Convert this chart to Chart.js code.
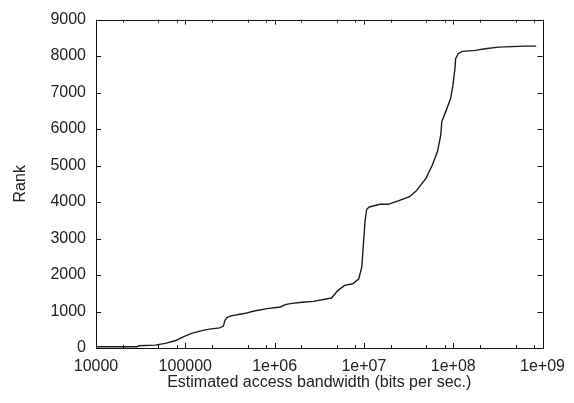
<!DOCTYPE html>
<html>
<head>
<meta charset="utf-8">
<script src="https://cdn.jsdelivr.net/npm/chart.js@4/dist/chart.umd.min.js"></script>
<style>
html,body{margin:0;padding:0;background:#fff;}
#wrap{width:574px;height:403px;}
</style>
</head>
<body>
<div id="wrap"><canvas id="c" width="574" height="403"></canvas></div>
<script>
// Data
const bandwidth = [1e4, 2.9e4, 3.0e4, 4.6e4, 5.95e4, 7.67e4, 9.9e4, 1.17e5, 1.62e5, 1.87e5, 2.42e5, 2.67e5, 2.78e5, 2.96e5, 3.25e5, 4.56e5, 5.89e5, 8.26e5, 1.16e6, 1.32e6, 1.5e6, 2.02e6, 2.71e6, 4.33e6, 5.13e6, 6.08e6, 7.52e6, 8.76e6, 9.46e6, 9.87e6, 1.03e7, 1.074e7, 1.15e7, 1.51e7, 1.87e7, 2.51e7, 3.24e7, 3.84e7, 4.95e7, 5.87e7, 6.67e7, 7.26e7, 7.45e7, 8.24e7, 9.36e7, 9.93e7, 1.045e8, 1.064e8, 1.138e8, 1.262e8, 1.77e8, 2.28e8, 3.21e8, 6.33e8, 8.5e8];
const rank = [35, 35, 60, 80, 128, 198, 327, 400, 490, 517, 553, 600, 760, 840, 880, 944, 1015, 1080, 1124, 1189, 1217, 1252, 1279, 1369, 1579, 1715, 1761, 1897, 2213, 2850, 3484, 3802, 3865, 3938, 3938, 4047, 4145, 4300, 4650, 5027, 5389, 5843, 6206, 6478, 6840, 7205, 7656, 7929, 8065, 8130, 8157, 8201, 8247, 8274, 8274];
const xTickValues = [1e4, 1e5, 1e6, 1e7, 1e8, 1e9];
const xTickLabels = ["10000", "100000", "1e+06", "1e+07", "1e+08", "1e+09"];
const xMinorFactors = [2, 5, 8];
const yTickValues = [0, 1000, 2000, 3000, 4000, 5000, 6000, 7000, 8000, 9000];
const xTitle = "Estimated access bandwidth (bits per sec.)";
const yTitle = "Rank";

const points = bandwidth.map((b, i) => ({x: b, y: rank[i]}));
const FONT = "'Liberation Sans', Arial, sans-serif";
const TXT = '#222';

const framePlugin = {
  id: 'frame',
  afterDraw(chart) {
    const ctx = chart.ctx, a = chart.chartArea;
    const xs = chart.scales.x, ys = chart.scales.y;
    ctx.save();
    ctx.strokeStyle = '#111';
    ctx.lineWidth = 1;
    ctx.beginPath();
    ctx.rect(Math.round(a.left) + 0.5, Math.round(a.top) + 0.5, Math.round(a.right - a.left), Math.round(a.bottom - a.top));
    ctx.stroke();
    ctx.beginPath();
    xTickValues.forEach((v, i) => {
      const px = Math.round(xs.getPixelForValue(v)) + 0.5;
      ctx.moveTo(px, a.bottom); ctx.lineTo(px, a.bottom - 5);
      ctx.moveTo(px, a.top); ctx.lineTo(px, a.top + 5);
      if (i < xTickValues.length - 1) {
        xMinorFactors.forEach(f => {
          const mx = Math.round(xs.getPixelForValue(v * f)) + 0.5;
          ctx.moveTo(mx, a.bottom); ctx.lineTo(mx, a.bottom - 3);
          ctx.moveTo(mx, a.top); ctx.lineTo(mx, a.top + 3);
        });
      }
    });
    yTickValues.forEach(v => {
      const py = Math.round(ys.getPixelForValue(v)) + 0.5;
      ctx.moveTo(a.left, py); ctx.lineTo(a.left + 5, py);
      ctx.moveTo(a.right, py); ctx.lineTo(a.right - 5, py);
    });
    ctx.stroke();
    ctx.restore();
  }
};

new Chart(document.getElementById('c'), {
  type: 'line',
  data: {
    datasets: [{
      data: points,
      borderColor: '#1a1a1a',
      borderWidth: 1.4,
      pointRadius: 0,
      tension: 0,
      fill: false
    }]
  },
  options: {
    responsive: false,
    animation: false,
    devicePixelRatio: 1,
    layout: {padding: {left: 0, right: 26, top: 17, bottom: 0}},
    plugins: {legend: {display: false}, tooltip: {enabled: false}},
    scales: {
      x: {
        type: 'logarithmic',
        min: 1e4,
        max: 1e9,
        afterBuildTicks(scale) { scale.ticks = xTickValues.map(v => ({value: v})); },
        afterFit(scale) { scale.height = 55; },
        grid: {display: false, drawTicks: false},
        border: {display: false},
        ticks: {
          autoSkip: false,
          maxRotation: 0,
          padding: 9,
          color: TXT,
          font: {family: FONT, size: 16},
          callback(value, index) { return xTickLabels[index]; }
        },
        title: {display: true, text: xTitle, color: TXT, font: {family: FONT, size: 16}, padding: {top: 0, bottom: 11}}
      },
      y: {
        min: 0,
        max: 9000,
        afterBuildTicks(scale) { scale.ticks = yTickValues.map(v => ({value: v})); },
        afterFit(scale) { scale.width = 96; },
        grid: {display: false, drawTicks: false},
        border: {display: false},
        ticks: {
          padding: 10,
          color: TXT,
          font: {family: FONT, size: 16},
          callback(value) { return String(value); }
        },
        title: {display: true, text: yTitle, color: TXT, font: {family: FONT, size: 16}, padding: {top: 11, bottom: 0}}
      }
    }
  },
  plugins: [framePlugin]
});
</script>
</body>
</html>
